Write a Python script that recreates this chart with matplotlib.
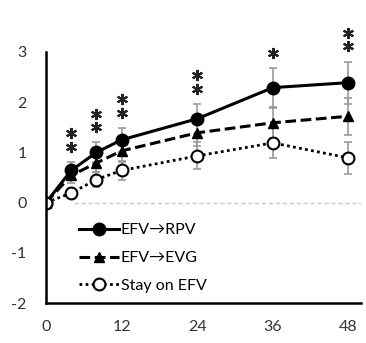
import matplotlib.pyplot as plt
import numpy as np

plt.rcParams['font.family'] = ['Lato', 'DejaVu Sans']
plt.rcParams['axes.unicode_minus'] = False

weeks = [0, 4, 8, 12, 24, 36, 48]

rpv_mean = [0, 0.64, 1.00, 1.25, 1.67, 2.29, 2.39]
rpv_sd = [0, 0.17, 0.20, 0.24, 0.30, 0.40, 0.42]

evg_mean = [0, 0.54, 0.79, 1.03, 1.39, 1.59, 1.72]
evg_sd = [0, 0.14, 0.18, 0.22, 0.26, 0.31, 0.37]

efv_mean = [0, 0.19, 0.46, 0.64, 0.93, 1.19, 0.89]
efv_sd = [0, 0.10, 0.15, 0.18, 0.27, 0.30, 0.32]

# number of asterisks above each RPV point
stars = [0, 2, 2, 2, 2, 1, 2]

fig = plt.figure(figsize=(3.66, 3.43), dpi=100)
ax = fig.add_axes([0.1257, 0.1166, 0.8606, 0.7318])

err_kw = dict(ecolor='#9a9a9a', elinewidth=1.2, capsize=3, capthick=1.2)

ax.hlines(0, 4.5, 50, colors='#c8c8c8', linestyles=(0, (3, 2)), lw=1, zorder=1)

ax.errorbar(weeks, efv_mean, yerr=efv_sd, fmt='none', zorder=2, **err_kw)
ax.errorbar(weeks, evg_mean, yerr=evg_sd, fmt='none', zorder=2, **err_kw)
ax.errorbar(weeks, rpv_mean, yerr=rpv_sd, fmt='none', zorder=2, **err_kw)

ax.plot(weeks, efv_mean, color='black', lw=2, ls=(0, (1, 1.2)), marker='o',
        ms=8.5, mfc='white', mec='black', mew=1.5, label='Stay on EFV', zorder=6)
ax.plot(weeks, evg_mean, color='black', lw=2.2, ls=(0, (3.5, 1.5)), marker='^',
        ms=7, mfc='black', mec='black', label='EFV→EVG', zorder=4)
ax.plot(weeks, rpv_mean, color='black', lw=2.2, ls='-', marker='o',
        ms=9, mfc='black', mec='black', label='EFV→RPV', zorder=5)

# significance asterisks stacked above the RPV error bars
for x, m, s, n in zip(weeks, rpv_mean, rpv_sd, stars):
    for k in range(n):
        ax.plot(x, m + s + 0.3 + 0.27 * k, marker=(6, 2, 0), ms=8, mew=1.5,
                color='#222222', clip_on=False, zorder=6)

ax.set_xlim(0, 50)
ax.set_ylim(-2, 3)
ax.set_xticks([0, 12, 24, 36, 48])
ax.set_yticks([-2, -1, 0, 1, 2, 3])
ax.tick_params(length=0, labelsize=11.5, colors='#333333')
ax.tick_params(axis='y', pad=14)
ax.tick_params(axis='x', pad=12)

for side in ['top', 'right']:
    ax.spines[side].set_visible(False)
for side in ['left', 'bottom']:
    ax.spines[side].set_linewidth(1.8)
    ax.spines[side].set_zorder(7)

handles, labels = ax.get_legend_handles_labels()
ax.legend(handles[::-1], labels[::-1], loc='upper left',
          bbox_to_anchor=(0.06, 0.375), frameon=False, fontsize=11.5,
          handlelength=2.5, handletextpad=0.1, labelspacing=0.85,
          markerscale=1.0)

fig.savefig('out.png', dpi=100)
